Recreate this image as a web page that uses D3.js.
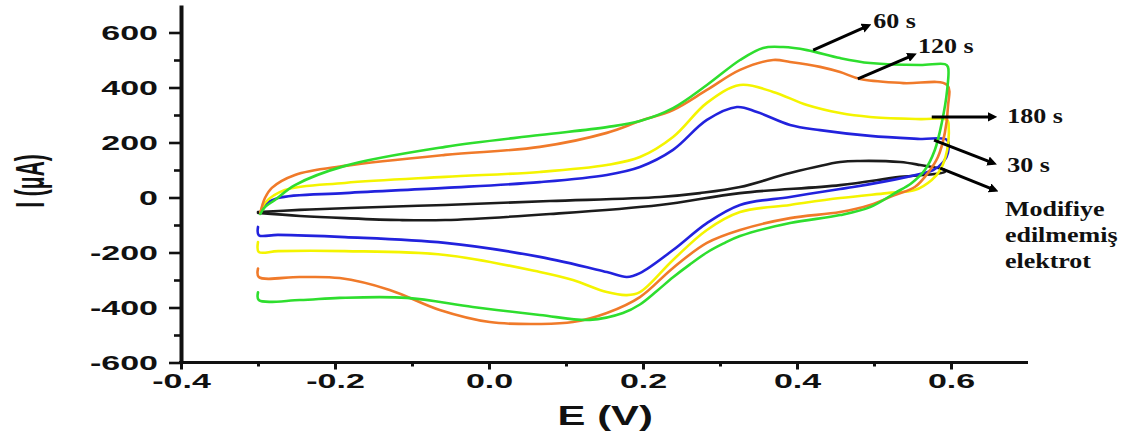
<!DOCTYPE html>
<html><head><meta charset="utf-8">
<script src="https://cdn.jsdelivr.net/npm/d3@7"></script>
<style>
body{margin:0;background:#fff;}
svg{display:block;}
</style>
</head><body>
<svg id="chart" width="1138" height="439"></svg>
<script>
// ---------- data ----------
const xTicks = [-0.4, -0.2, 0.0, 0.2, 0.4, 0.6];
const xTickLabels = ["-0.4", "-0.2", "0.0", "0.2", "0.4", "0.6"];
const xMinorTicks = [-0.3, -0.1, 0.1, 0.3, 0.5];
const yTicks = [-600, -400, -200, 0, 200, 400, 600];
const yTickLabels = ["-600", "-400", "-200", "0", "200", "400", "600"];
const yMinorTicks = [-500, -300, -100, 100, 300, 500];

const seriesNames = ["Modifiye edilmemiş elektrot", "30 s", "180 s", "120 s", "60 s"];

// unmodified electrode (black)
const unmodE = [-0.300,-0.2455,-0.1805,-0.057,0.079,0.222,0.274,0.326,0.391,0.456,0.482,0.534,0.560,0.592,
                0.592,0.534,0.456,0.326,0.222,0.079,-0.057,-0.116,-0.187,-0.2455,-0.300];
const unmodI = [-53,-45,-38,-27,-13,2,16,38,89,129,133,129,118,100,
                93,75,45,16,-27,-60,-82,-82,-75,-67,-56];

// 30 s (blue)
const s30E = [-0.297,-0.291,-0.274,-0.187,-0.057,0.066,0.153,0.196,0.239,0.283,0.322,0.348,0.391,0.430,0.495,0.560,0.595,
              0.596,0.590,0.577,0.543,0.473,0.456,0.391,0.326,0.283,0.239,0.196,0.179,0.153,0.066,-0.057,-0.187,-0.274,-0.299,-0.300];
const s30I = [-56,-27,-2,16,35,56,82,111,173,282,329,311,264,245,224,213,209,
              162,129,100,75,38,31,2,-27,-93,-191,-275,-289,-271,-216,-165,-144,-136,-137,-107];

// 180 s (yellow)
const s180E = [-0.297,-0.291,-0.265,-0.187,-0.057,0.066,0.153,0.196,0.239,0.283,0.326,0.369,0.413,0.456,0.495,0.560,0.595,
               0.597,0.595,0.586,0.575,0.553,0.517,0.456,0.391,0.326,0.283,0.239,0.196,0.179,0.153,0.109,0.066,-0.057,-0.187,-0.274,-0.299,-0.300];
const s180I = [-56,-20,27,53,75,93,118,147,220,344,409,384,336,307,293,285,282,
               253,173,100,64,27,16,-2,-27,-53,-118,-227,-344,-355,-344,-300,-271,-209,-195,-195,-198,-162];

// 120 s (orange)
const s120E = [-0.297,-0.291,-0.282,-0.252,-0.187,-0.057,0.066,0.153,0.196,0.239,0.283,0.326,0.369,0.391,0.430,0.456,0.482,0.538,0.595,
               0.596,0.592,0.583,0.570,0.553,0.527,0.495,0.456,0.391,0.326,0.283,0.239,0.196,0.153,0.109,0.066,0.001,-0.064,-0.129,-0.194,-0.2455,-0.299,-0.300];
const s120I = [-56,-2,35,82,115,155,184,235,278,318,391,464,500,493,475,456,431,416,409,
               329,235,147,89,38,9,-27,-53,-75,-118,-165,-256,-362,-420,-453,-460,-453,-409,-336,-293,-289,-289,-258];

// 60 s (green)
const s60E = [-0.297,-0.291,-0.278,-0.252,-0.187,-0.057,0.066,0.153,0.196,0.239,0.283,0.326,0.356,0.382,0.413,0.456,0.495,0.560,0.592,0.596,
              0.595,0.588,0.579,0.566,0.549,0.527,0.495,0.456,0.391,0.326,0.304,0.283,0.261,0.239,0.218,0.196,0.174,0.131,0.066,-0.021,-0.1065,-0.194,-0.2455,-0.299,-0.300];
const s60I = [-60,-35,-9,45,115,184,227,256,278,325,409,500,544,547,536,507,489,482,485,475,
              391,271,173,100,53,16,-35,-64,-93,-140,-168,-200,-243,-290,-340,-389,-420,-445,-427,-398,-365,-365,-373,-373,-345];

// annotations (data coordinates)
const annLines = [["60 s"], ["120 s"], ["180 s"], ["30 s"], ["Modifiye", "edilmemiş", "elektrot"]];
const arrowFromE = [0.421, 0.479, 0.575, 0.578, 0.586];
const arrowFromI = [536, 431, 293, 209, 107];
const arrowToE   = [0.492, 0.551, 0.655, 0.655, 0.657];
const arrowToI   = [624, 518, 293, 125, 27];
const labelE     = [0.499, 0.557, 0.673, 0.673, 0.670];
const labelI     = [615, 525, 271, 93, -67];

// ---------- drawing ----------
const svg = d3.select("#chart");
const x = d3.scaleLinear().domain([-0.4, 0.7]).range([181, 1028]);
const y = d3.scaleLinear().domain([-600, 700]).range([362.5, 5]);

const series = [
  {E: unmodE, I: unmodI, color: "#1c1c1c"},
  {E: s30E, I: s30I, color: "#2222dd"},
  {E: s180E, I: s180I, color: "#f4f400"},
  {E: s120E, I: s120I, color: "#f07a2a"},
  {E: s60E, I: s60I, color: "#2ede2e"}
];

const line = d3.line()
  .x(d => x(d[0])).y(d => y(d[1]))
  .curve(d3.curveCatmullRom.alpha(0.5));

svg.append("g").selectAll("path").data(series).join("path")
  .attr("d", s => line(s.E.map((e, i) => [e, s.I[i]])))
  .attr("fill", "none")
  .attr("stroke", s => s.color)
  .attr("stroke-width", 2.6)
  .attr("stroke-linejoin", "round")
  .attr("stroke-linecap", "round");

// axes
const axisFont = "'Liberation Sans', Arial, Helvetica, sans-serif";
const SX = 1.7;

const yAxis = svg.append("g").attr("transform", "translate(181,0)")
  .call(d3.axisLeft(y).tickValues(yTicks).tickSizeInner(12).tickSizeOuter(0).tickFormat((d, i) => yTickLabels[i]));
yAxis.select(".domain").attr("stroke", "#111").attr("stroke-width", 4);
yAxis.selectAll(".tick line").attr("stroke", "#111").attr("stroke-width", 2.6);
yAxis.selectAll(".tick text")
  .attr("x", -23 / SX).attr("dy", "0.36em")
  .attr("transform", `scale(${SX},1)`)
  .attr("font-family", axisFont).attr("font-weight", "bold").attr("font-size", 20).attr("fill", "#111");

const yMinor = svg.append("g").attr("transform", "translate(181,0)")
  .call(d3.axisLeft(y).tickValues(yMinorTicks).tickSizeInner(7).tickSizeOuter(0).tickFormat(""));
yMinor.select(".domain").remove();
yMinor.selectAll(".tick line").attr("stroke", "#111").attr("stroke-width", 2.6);

const xAxis = svg.append("g").attr("transform", "translate(0,362.5)")
  .call(d3.axisBottom(x).tickValues(xTicks).tickSizeInner(7).tickSizeOuter(0).tickFormat((d, i) => xTickLabels[i]));
xAxis.select(".domain").attr("stroke", "#111").attr("stroke-width", 3).attr("d", `M${x(-0.4) - 2},0H${x(0.7)}`);
xAxis.selectAll(".tick line").attr("stroke", "#111").attr("stroke-width", 3);
xAxis.selectAll(".tick text")
  .attr("y", 11).attr("dy", "0.71em")
  .attr("transform", `scale(${SX},1)`)
  .attr("font-family", axisFont).attr("font-weight", "bold").attr("font-size", 20).attr("fill", "#111");

const xMinor = svg.append("g").attr("transform", "translate(0,362.5)")
  .call(d3.axisBottom(x).tickValues(xMinorTicks).tickSizeInner(4).tickSizeOuter(0).tickFormat(""));
xMinor.select(".domain").remove();
xMinor.selectAll(".tick line").attr("stroke", "#111").attr("stroke-width", 3);

// axis titles
svg.append("text")
  .attr("transform", `translate(${x(0.151)},425) scale(1.55,1)`)
  .attr("text-anchor", "middle")
  .attr("font-family", axisFont).attr("font-weight", "bold").attr("font-size", 27).attr("fill", "#111")
  .text("E (V)");
svg.append("text")
  .attr("transform", `translate(44,${y(60)}) scale(1.9,1) rotate(-90)`)
  .attr("text-anchor", "middle")
  .attr("font-family", axisFont).attr("font-weight", "bold").attr("font-size", 21).attr("fill", "#111")
  .text("I (μA)");

// arrows + annotation labels
svg.append("defs").append("marker")
  .attr("id", "ah").attr("viewBox", "0 0 10 10").attr("refX", 6).attr("refY", 5)
  .attr("markerWidth", 3.2).attr("markerHeight", 3.2).attr("orient", "auto")
  .append("path").attr("d", "M0,0L10,5L0,10z").attr("fill", "#000");

const ann = svg.append("g");
annLines.forEach((lines, k) => {
  ann.append("line")
    .attr("x1", x(arrowFromE[k])).attr("y1", y(arrowFromI[k]))
    .attr("x2", x(arrowToE[k])).attr("y2", y(arrowToI[k]))
    .attr("stroke", "#000").attr("stroke-width", 3)
    .attr("marker-end", "url(#ah)");
  lines.forEach((t, j) => {
    ann.append("text")
      .attr("transform", `translate(${x(labelE[k])},${y(labelI[k]) + j * 26}) scale(1.3,1)`)
      .attr("font-family", "'Liberation Serif', 'Times New Roman', serif")
      .attr("font-weight", "bold").attr("font-size", 20).attr("fill", "#111")
      .text(t);
  });
});
</script>
</body></html>
